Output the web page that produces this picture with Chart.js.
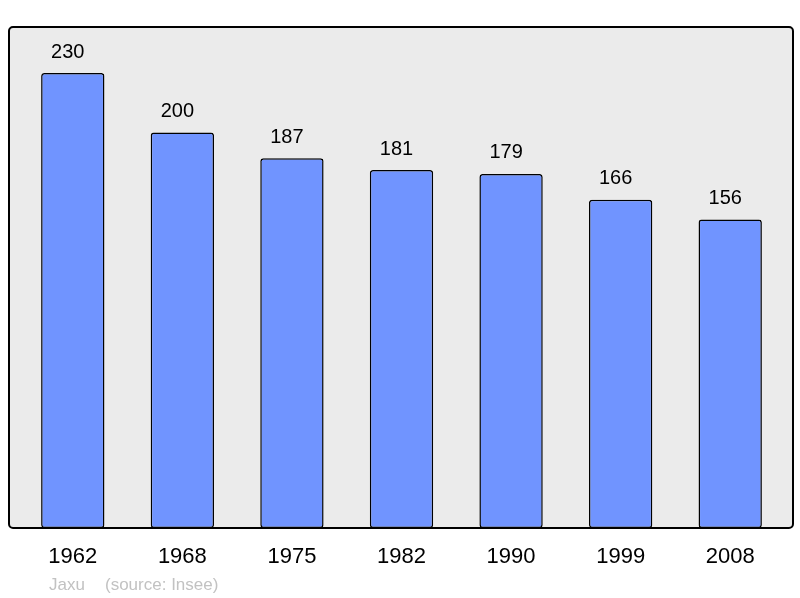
<!DOCTYPE html>
<html>
<head>
<meta charset="utf-8">
<script src="https://cdn.jsdelivr.net/npm/chart.js@4"></script>
<style>
  body { margin: 0; background: #fff; }
  canvas { display: block; }
</style>
</head>
<body>
<canvas id="popChart" width="800" height="598"></canvas>
<script>
var years = ["1962", "1968", "1975", "1982", "1990", "1999", "2008"];
var population = [230, 200, 187, 181, 179, 166, 156];
var footerAuthor = "Jaxu";
var footerSource = "(source: Insee)";

// grey frame behind the bars, a bit wider than the category band
const framePlugin = {
  id: "frame",
  beforeDatasetsDraw(chart) {
    const ctx = chart.ctx;
    const a = chart.chartArea;
    const x0 = a.left - 9, x1 = a.right + 8, y0 = a.top, y1 = a.bottom;
    ctx.save();
    ctx.beginPath();
    ctx.roundRect(x0, y0, x1 - x0, y1 - y0, 4);
    ctx.fillStyle = "#ebebeb";
    ctx.fill();
    ctx.lineWidth = 2;
    ctx.strokeStyle = "#000";
    ctx.stroke();
    ctx.restore();
  },
  afterDatasetsDraw(chart) {
    const ctx = chart.ctx;
    const xs = chart.scales.x, ys = chart.scales.y;
    ctx.save();
    ctx.textAlign = "center";
    ctx.textBaseline = "middle";
    ctx.fillStyle = "#000";
    ctx.font = "20px 'Liberation Sans', Arial, sans-serif";
    population.forEach((v, i) => {
      ctx.fillText(String(v), xs.getPixelForValue(i) - 5, ys.getPixelForValue(v) - 21);
    });
    ctx.font = "22px 'Liberation Sans', Arial, sans-serif";
    years.forEach((y, i) => {
      ctx.fillText(y, xs.getPixelForValue(i), 557);
    });
    ctx.textAlign = "left";
    ctx.fillStyle = "#c2c2c2";
    ctx.font = "17px 'Liberation Sans', Arial, sans-serif";
    ctx.fillText(footerAuthor, 49, 585);
    ctx.fillText(footerSource, 105, 585);
    ctx.restore();
  }
};

new Chart(document.getElementById("popChart"), {
  type: "bar",
  data: {
    labels: years,
    datasets: [{
      data: population,
      backgroundColor: "#7094ff",
      borderColor: "#000",
      borderWidth: 1.5,
      borderRadius: 3,
      borderSkipped: false,
      categoryPercentage: 0.578,
      barPercentage: 1.0
    }]
  },
  options: {
    responsive: false,
    animation: false,
    layout: { padding: { left: 18, right: 15, top: 27, bottom: 70 } },
    plugins: { legend: { display: false }, tooltip: { enabled: false } },
    scales: {
      x: { display: false },
      y: { display: false, min: 0, max: 253.3 }
    }
  },
  plugins: [framePlugin]
});
</script>
</body>
</html>
